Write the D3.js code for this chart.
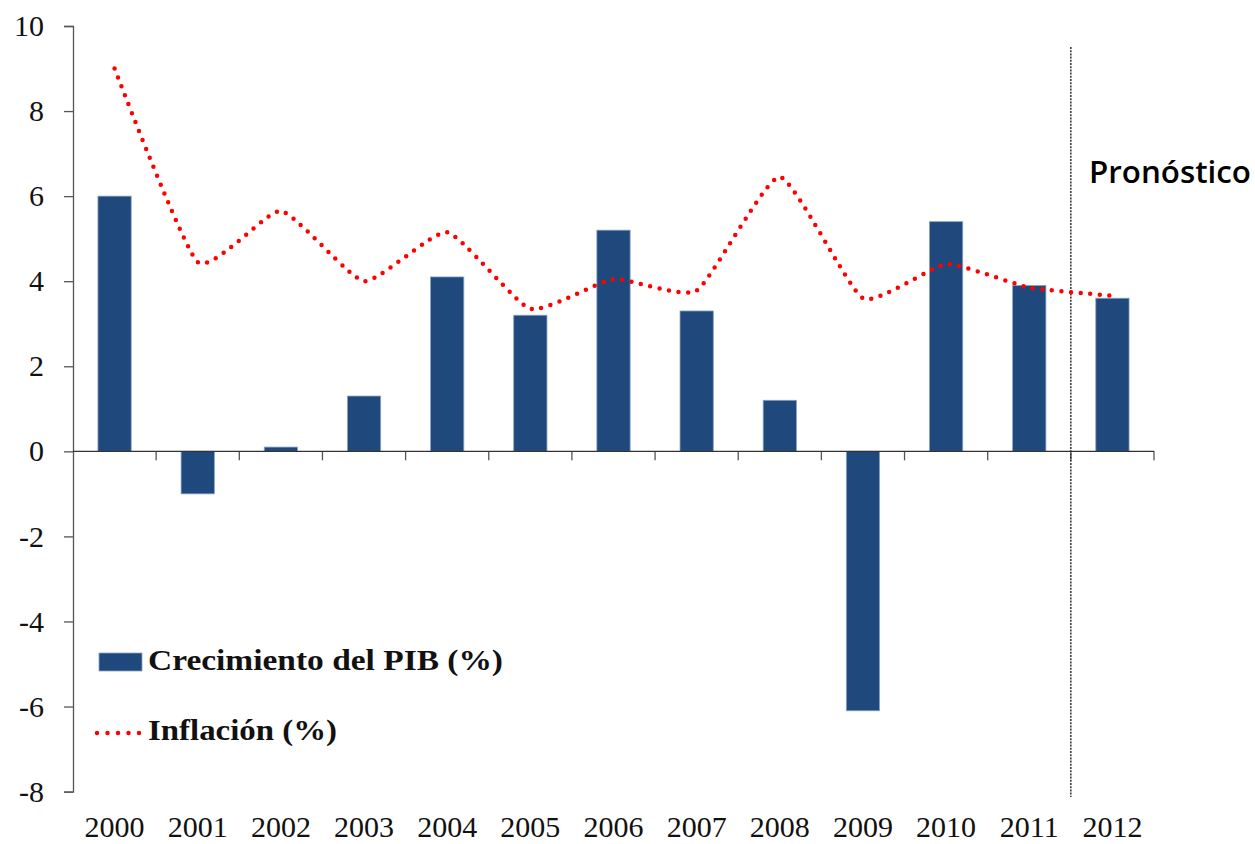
<!DOCTYPE html>
<html>
<head>
<meta charset="utf-8">
<script src="https://cdn.jsdelivr.net/npm/d3@7"></script>
<style>
  html, body { margin: 0; padding: 0; background: #fff; }
  svg { display: block; }
</style>
</head>
<body>
<svg id="chart"></svg>
<script>
const years = ['2000', '2001', '2002', '2003', '2004', '2005', '2006',
               '2007', '2008', '2009', '2010', '2011', '2012'];
const gdpGrowth = [6.0, -1.0, 0.1, 1.3, 4.1, 3.2, 5.2, 3.3, 1.2, -6.1, 5.4, 3.9, 3.6];
const inflation = [9.0, 4.45, 5.65, 4.0, 5.15, 3.35, 4.05, 3.78, 6.45, 3.6, 4.4, 3.85, 3.66];
const yTicks = [-8, -6, -4, -2, 0, 2, 4, 6, 8, 10];
const legendLabels = ['Crecimiento del PIB (%)', 'Inflación (%)'];
const forecastLabel = 'Pronóstico';
const forecastFrom = '2012';

const W = 1255, H = 844;
const plotLeft = 73, plotRight = 1154, plotTop = 26, plotBottom = 791.6;
const barColor = '#1F497D';
const axisColor = '#555';
const serif = '"Liberation Serif", "DejaVu Serif", serif';

const svg = d3.select('#chart')
    .attr('width', W)
    .attr('height', H);

const x = d3.scaleBand()
    .domain(years)
    .range([plotLeft, plotRight])
    .paddingInner(0.6)
    .paddingOuter(0.3);

const y = d3.scaleLinear()
    .domain([-8, 10])
    .range([plotBottom, plotTop]);

// y axis (plain hyphen for negatives, like the original)
const yAxis = svg.append('g')
    .attr('transform', `translate(${plotLeft},0)`)
    .call(d3.axisLeft(y).tickValues(yTicks).tickSize(9).tickPadding(20).tickFormat(d => String(d)));
yAxis.select('.domain').attr('stroke', axisColor).attr('stroke-width', 1.3);
yAxis.selectAll('.tick line').attr('stroke', axisColor).attr('stroke-width', 1.3);
yAxis.selectAll('.tick text')
    .attr('font-family', serif)
    .attr('font-size', 30)
    .attr('fill', '#111');

// x axis ticks at band boundaries
const boundaries = years.map(d => x(d) - x.bandwidth() * 0.75).concat([plotRight]);
svg.selectAll('.xtick')
    .data(boundaries.slice(1))
    .enter()
    .append('line')
    .attr('x1', d => d).attr('x2', d => d)
    .attr('y1', y(0)).attr('y2', y(0) + 9)
    .attr('stroke', axisColor).attr('stroke-width', 1.3);

svg.selectAll('.xlabel')
    .data(years)
    .enter()
    .append('text')
    .attr('x', d => x(d) + x.bandwidth() / 2)
    .attr('y', 837)
    .attr('text-anchor', 'middle')
    .attr('font-family', serif)
    .attr('font-size', 30)
    .attr('fill', '#111')
    .text(d => d);

// bars
svg.selectAll('.bar')
    .data(years)
    .enter()
    .append('rect')
    .attr('x', d => x(d))
    .attr('width', x.bandwidth())
    .attr('y', (d, i) => y(Math.max(0, gdpGrowth[i])))
    .attr('height', (d, i) => Math.abs(y(gdpGrowth[i]) - y(0)))
    .attr('fill', barColor)
    .attr('stroke', '#8aa2c2')
    .attr('stroke-width', 0.8);

// zero line drawn over bars
svg.append('line')
    .attr('x1', plotLeft).attr('x2', plotRight)
    .attr('y1', y(0)).attr('y2', y(0))
    .attr('stroke', '#333').attr('stroke-width', 1.3);

// forecast divider
const divX = x(forecastFrom) - x.bandwidth() * 0.75;
svg.append('line')
    .attr('x1', divX).attr('x2', divX)
    .attr('y1', 47).attr('y2', 797)
    .attr('stroke', '#222')
    .attr('stroke-width', 1.4)
    .attr('stroke-dasharray', '2 1.2');

svg.append('text')
    .attr('x', 1089)
    .attr('y', 183)
    .attr('font-family', '"Open Sans", "Noto Sans", sans-serif')
    .attr('font-size', 31)
    .attr('font-weight', 600)
    .attr('textLength', 162)
    .attr('lengthAdjust', 'spacingAndGlyphs')
    .attr('fill', '#000')
    .text(forecastLabel);

// inflation line
const line = d3.line()
    .x((d, i) => x(years[i]) + x.bandwidth() / 2)
    .y(d => y(d))
    .curve(d3.curveCardinal.tension(0.5));

svg.append('path')
    .datum(inflation)
    .attr('d', line)
    .attr('fill', 'none')
    .attr('stroke', '#FF0000')
    .attr('stroke-width', 4.5)
    .attr('stroke-linecap', 'round')
    .attr('stroke-dasharray', '0 9.6');

// legend
const legend = svg.append('g');
legend.append('rect')
    .attr('x', 99).attr('y', 653)
    .attr('width', 43).attr('height', 18)
    .attr('fill', barColor)
    .attr('stroke', '#8aa2c2')
    .attr('stroke-width', 0.8);
legend.append('line')
    .attr('x1', 97).attr('x2', 141)
    .attr('y1', 733).attr('y2', 733)
    .attr('stroke', '#FF0000')
    .attr('stroke-width', 4.5)
    .attr('stroke-linecap', 'round')
    .attr('stroke-dasharray', '0 10.5');
const legendWidths = [355, 189];
legend.selectAll('.ltext')
    .data(legendLabels)
    .enter()
    .append('text')
    .attr('x', 148)
    .attr('y', (d, i) => i === 0 ? 670 : 740)
    .attr('font-family', serif)
    .attr('font-weight', 'bold')
    .attr('font-size', 30)
    .attr('textLength', (d, i) => legendWidths[i])
    .attr('lengthAdjust', 'spacingAndGlyphs')
    .attr('fill', '#111')
    .text(d => d);
</script>
</body>
</html>
